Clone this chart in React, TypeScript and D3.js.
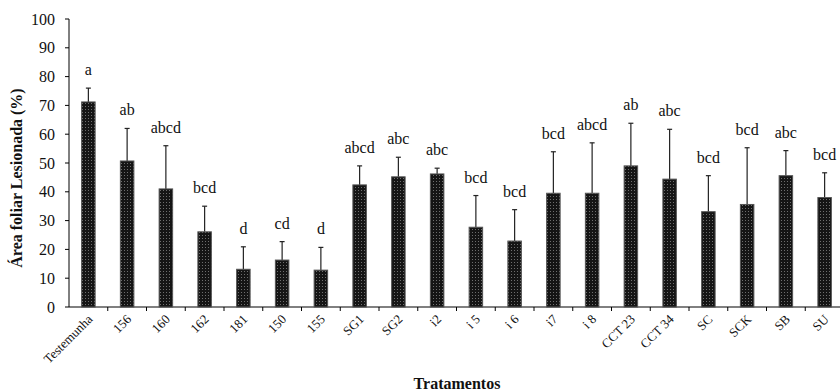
import React from "react";
import * as d3 from "d3";

// treatments and measured values (mean + upper error)
const treatments = [
  "Testemunha", "156", "160", "162", "181", "150", "155", "SG1", "SG2", "i2",
  "i 5", "i 6", "i7", "i 8", "CCT 23", "CCT 34", "SC", "SCK", "SB", "SU",
];
const means = [
  71.2, 50.7, 41, 26.1, 13.1, 16.3, 12.8, 42.4, 45.2, 46.2,
  27.7, 22.9, 39.5, 39.5, 49, 44.4, 33.1, 35.6, 45.6, 38,
];
const errorTops = [
  76, 62, 56, 35, 20.9, 22.7, 20.7, 49, 52, 48.2,
  38.7, 33.8, 53.9, 57, 63.8, 61.7, 45.6, 55.3, 54.3, 46.6,
];
const letters = [
  "a", "ab", "abcd", "bcd", "d", "cd", "d", "abcd", "abc", "abc",
  "bcd", "bcd", "bcd", "abcd", "ab", "abc", "bcd", "bcd", "abc", "bcd",
];
const yTicks = [0, 10, 20, 30, 40, 50, 60, 70, 80, 90, 100];

const W = 840;
const H = 391;
const FONT = "'Liberation Serif', 'Times New Roman', serif";

export default function App() {
  const x = d3.scaleBand().domain(treatments).range([69, 844]);
  const y = d3.scaleLinear().domain([0, 100]).range([307, 19]);
  const barW = 13.5;
  const y0 = y(0);

  return (
    <svg
      width={W}
      height={H}
      style={{ position: "absolute", left: 0, top: 0, background: "#fff" }}
      fontFamily={FONT}
    >
      <defs>
        <pattern id="dots" width="3" height="3" patternUnits="userSpaceOnUse">
          <rect width="3" height="3" fill="#151515" />
          <rect x="1" y="1" width="1" height="1" fill="#6e6e6e" />
        </pattern>
      </defs>

      {/* y axis */}
      <line x1={69} x2={69} y1={y(100)} y2={y0} stroke="#000" />
      {yTicks.map((t) => (
        <g key={t}>
          <line x1={65} x2={69} y1={y(t)} y2={y(t)} stroke="#000" />
          <text x={55} y={y(t)} dy="0.35em" textAnchor="end" fontSize={16} fill="#111">
            {t}
          </text>
        </g>
      ))}

      {/* x axis, ticks between categories */}
      <line x1={69} x2={W} y1={y0} y2={y0} stroke="#000" />
      {treatments.slice(1).map((t) => (
        <line key={t} x1={x(t)!} x2={x(t)!} y1={y0} y2={y0 + 4} stroke="#000" />
      ))}

      {/* bars, error bars, letters, labels */}
      {treatments.map((t, i) => {
        const cx = x(t)! + x.bandwidth() / 2;
        const top = y(means[i]);
        const et = y(errorTops[i]);
        return (
          <g key={t}>
            <line x1={cx} x2={cx} y1={top} y2={et} stroke="#222" strokeWidth={1.2} />
            <line x1={cx - 2.5} x2={cx + 2.5} y1={et} y2={et} stroke="#222" strokeWidth={1.2} />
            <rect x={cx - barW / 2} y={top} width={barW} height={y0 - top} fill="url(#dots)" stroke="#555" />
            <text x={cx} y={et - 13} textAnchor="middle" fontSize={16} fill="#111">
              {letters[i]}
            </text>
            <g transform={`translate(${cx + 5},${y0 + 13})`}>
              <text transform="rotate(-45)" textAnchor="end" fontSize={13} fill="#111">
                {t}
              </text>
            </g>
          </g>
        );
      })}

      {/* axis titles */}
      <text transform="translate(22,178) rotate(-90)" textAnchor="middle" fontSize={16} fontWeight="bold" fill="#111">
        Área foliar Lesionada (%)
      </text>
      <text x={457} y={389} textAnchor="middle" fontSize={16} fontWeight="bold" fill="#111">
        Tratamentos
      </text>
    </svg>
  );
}
